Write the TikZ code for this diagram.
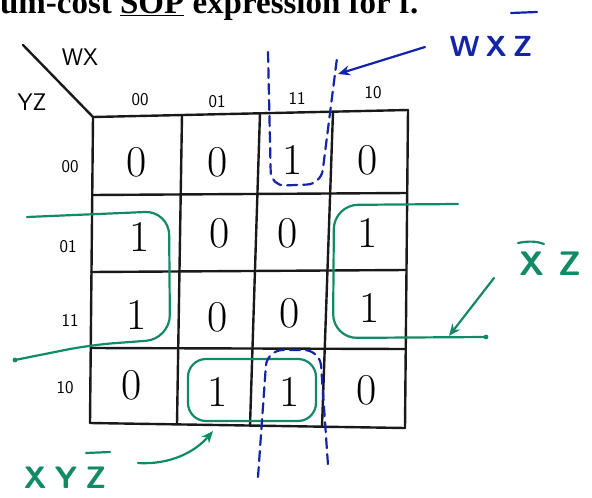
\documentclass[tikz,border=0pt]{standalone}
\usepackage{fontspec}
\usetikzlibrary{arrows.meta}
\newfontfamily\titlefont{Liberation Serif}
\definecolor{pengreen}{RGB}{18,138,102}
\definecolor{penblue}{RGB}{18,36,168}
\begin{document}
\begin{tikzpicture}[x=1pt,y=-1pt,line join=round,line cap=round,>={Stealth[length=12pt,width=10pt]},thick]
	\tikzset{every node/.style={inner sep=0pt},
		kgrid/.style={line width=2.4pt,black!90},
		gline/.style={line width=2.2pt,pengreen},
		bline/.style={line width=2.2pt,penblue},
		bdash/.style={bline,dash pattern=on 10pt off 6pt},
		cell/.style={font=\fontsize{44}{44}\selectfont},
		lab/.style={font=\sffamily\fontsize{18}{18}\selectfont},
		head/.style={font=\sffamily\fontsize{24}{24}\selectfont},
		term/.style={font=\sffamily\bfseries\fontsize{#1}{#1}\selectfont}}
	\useasboundingbox (0,0) rectangle (592,498);
	\clip (0,0) rectangle (592,498);
	% title line, cut at the top
	\node[anchor=base west,font=\titlefont\bfseries\fontsize{33}{33}\selectfont] (title) at (-92,13) {minimum-cost \underline{SOP} expression for f.};
	% the map
	\foreach \xa/\ya/\xb/\yb in {93/117/90/423,182/115/177/424,260/113/250/426,333/112/322/427,408/110/405/428}
		\draw[kgrid] (\xa,\ya)--(\xb,\yb);
	\foreach \xa/\ya/\xb/\yb in {93/117/408/110,92/195/407/193,91/272/406/270,91/348/406/349,90/423/405/428}
		\draw[kgrid] (\xa,\ya)--(\xb,\yb);
	\draw[kgrid] (23,45)--(93,117);
	\node[head] (wx) at (80,57) {WX};
	\node[head] (yz) at (32,102) {YZ};
	\foreach \n/\x/\y in {00/140/100,01/217/102,11/297/98,10/373/93}
		\node[lab] (c\n) at (\x,\y) {\n};
	\foreach \n/\x/\y in {00/70/167,01/68/247,11/70/320,10/65/388}
		\node[lab] (r\n) at (\x,\y) {\n};
	\foreach \r/\c/\x/\y/\v in {1/1/137/162/0,1/2/218/162/0,1/3/293/160/1,1/4/368/160/0,
		2/1/140/237/1,2/2/220/233/0,2/3/288/233/0,2/4/368/233/1,
		3/1/137/315/1,3/2/218/317/0,3/3/290/313/0,3/4/370/308/1,
		4/1/132/385/0,4/2/218/392/1,4/3/290/392/1,4/4/367/390/0}
		\node[cell] (m\r\c) at (\x,\y) {\v};
	% green groups
	\draw[gline,rounded corners=24pt] (27,217)--(169,211)--(170,339)--(90,345)--(15,360);
	\draw[gline,rounded corners=24pt] (458,204)--(334,205)--(333,338)--(486,337);
	\draw[gline,rounded corners=18pt] (188,359) rectangle (316,421);
	\fill[pengreen] (15,360) circle (2.4) (486,337) circle (2.4);
	% blue group, wrapped round top and bottom
	\draw[bdash,rounded corners=14pt] (268,52)--(271,186)--(321,184)--(337,58);
	\draw[bdash,rounded corners=16pt] (258,477)--(267,350)--(320,350)--(328,465);
	% terms, bars drawn by pen
	\node[term=29,text=penblue] (wxz) at (491,46) {W\hspace{6pt}X\hspace{6pt}Z};
	\node[term=34,text=pengreen] (xz) at (550,264) {X\hspace{14pt}Z};
	\node[term=31,text=pengreen] (xyz) at (65,478) {X\hspace{8pt}Y\hspace{8pt}Z};
	\draw[bline] (511,13)--(537,12);
	\draw[gline] (518,243) .. controls (528,241) and (536,241) .. (544,244);
	\draw[gline] (86,453)--(110,452);
	\coordinate (wxz-s) at (425,47);
	\coordinate (wxz-t) at (338,74);
	\coordinate (xz-s) at (494,278);
	\coordinate (xz-t) at (449,336);
	\coordinate (xyz-s) at (138,463);
	\coordinate (xyz-t) at (213,431);
	\draw[bline,->] (wxz-s)--(wxz-t);
	\draw[gline,->] (xz-s)--(xz-t);
	\draw[gline,->] (xyz-s) .. controls (170,465) and (195,452) .. (xyz-t);
\end{tikzpicture}
\end{document}
